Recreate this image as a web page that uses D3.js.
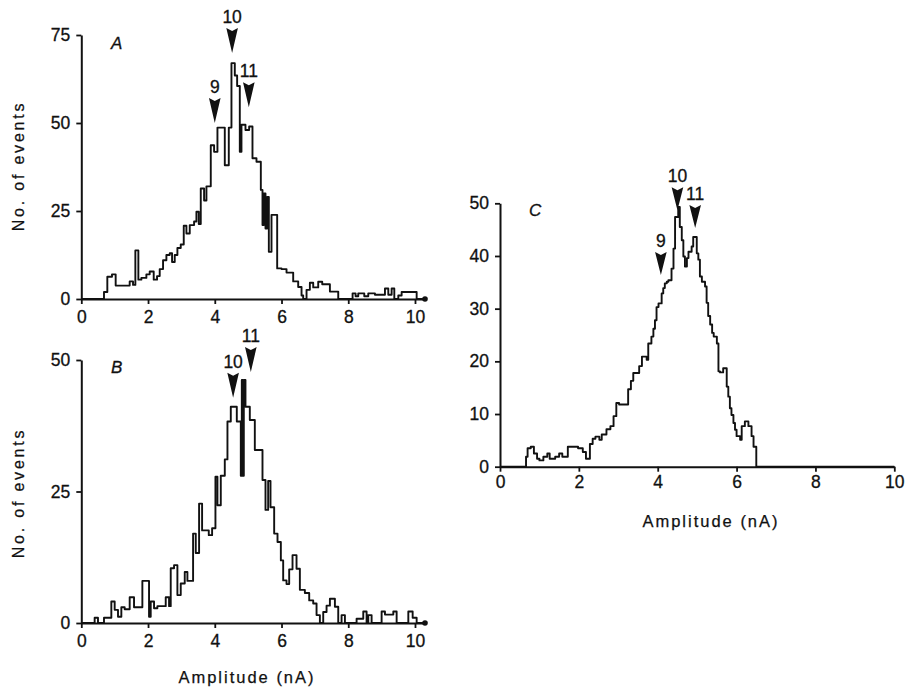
<!DOCTYPE html>
<html><head><meta charset="utf-8">
<script src="https://cdn.jsdelivr.net/npm/d3@7/dist/d3.min.js"></script>
<style>
html,body{margin:0;padding:0;background:#fff;}
svg text{font-family:"Liberation Sans",Arial,Helvetica,sans-serif;fill:#111;}
</style></head>
<body><svg id="chart" width="911" height="689"></svg>
<script>
// ---------- DATA ----------
// Panel A: step histogram (amplitude step start in nA, number of events)
const aAmp   = [0,0.68,0.78,0.92,1.03,1.45,1.55,1.62,1.71,1.80,1.95,2.05,2.17,2.27,2.35,2.45,2.55,2.65,2.72,2.80,2.88,2.98,3.07,3.15,3.25,3.38,3.45,3.52,3.58,3.68,3.75,3.88,3.98,4.08,4.30,4.42,4.50,4.60,4.67,4.75,4.80,4.92,5.03,5.13,5.25,5.38,5.43,5.47,5.52,5.57,5.62,5.70,5.87,6.00,6.15,6.35,6.50,6.60,6.65,6.75,6.85,6.95,7.10,7.22,7.45,7.70,8.13,8.22,8.30,8.48,8.60,8.80,9.10,9.20,9.30,9.38,9.50,9.60,10.05,10.3];
const aCount = [0,2,6.3,7,3.8,5,4,13.8,5.5,6,7,7.8,5.5,6.5,8.5,11,12.5,13,10.5,12.5,14.5,15.5,20.8,18.6,21,22,24.8,21.3,31.4,28,32,43.7,41.8,48.7,38,48.7,67,63.5,60.5,41.8,49.5,48,49,40,39,31,21,30,20,29,13.4,23.9,8.7,8.5,7.5,5,3.4,1,0,2.6,4.6,3.3,4.9,4.2,2.1,0,1.6,0.8,1.6,0.8,1.6,1.2,3,1.2,3,0,1,2,0,0];

// Panel B
const bAmp   = [0,0.40,0.50,0.68,0.90,1.00,1.10,1.20,1.30,1.45,1.58,1.83,2.03,2.08,2.18,2.28,2.53,2.63,2.68,2.78,2.88,2.98,3.10,3.18,3.35,3.43,3.53,3.62,3.82,3.92,4.02,4.08,4.18,4.30,4.38,4.48,4.66,4.78,4.81,4.84,4.87,4.92,5.05,5.20,5.43,5.52,5.60,5.67,5.78,5.88,5.98,6.05,6.15,6.23,6.33,6.45,6.55,6.70,6.83,6.95,7.05,7.15,7.25,7.35,7.45,7.60,7.70,7.80,7.90,8.25,8.45,8.55,8.60,8.70,9.00,9.10,9.35,9.45,9.80,9.93,10.05,10.3];
const bCount = [0,1,0,1,4.1,2.5,1.2,3,2.6,4.9,3,8,1.2,4.1,2.8,3.2,4.9,3.2,10.4,11,5.3,7.5,9.7,8,17,13.3,22.7,17.6,16.7,18,27.8,22.4,28,31.1,38.3,41.1,38.3,28,46.2,28,46.2,41.1,38.6,32.9,27.2,21.5,27,22,17,15.4,11.9,8.1,7.4,10.2,12.9,10.3,6.3,5.7,4.3,3.7,1.5,0,2.1,3.3,4.6,3.1,0,1.5,0,0.8,2.2,0,1.5,0,2.2,1.6,2.2,0,2.2,1,0,0];

// Panel C
const cAmp   = [0,0.66,0.70,0.78,0.86,0.94,1.00,1.10,1.20,1.26,1.40,1.50,1.58,1.72,1.98,2.10,2.18,2.28,2.35,2.42,2.52,2.58,2.70,2.80,2.88,2.95,3.02,3.25,3.32,3.38,3.53,3.60,3.72,3.76,3.84,3.89,3.93,3.97,4.02,4.10,4.14,4.18,4.23,4.27,4.35,4.40,4.44,4.52,4.56,4.61,4.65,4.69,4.74,4.78,4.86,4.90,4.99,5.03,5.07,5.12,5.20,5.24,5.28,5.33,5.38,5.42,5.50,5.54,5.58,5.66,5.75,5.79,5.83,5.87,5.92,5.96,6.00,6.09,6.13,6.21,6.30,6.38,6.43,6.50,10];
const cCount = [0,1.9,3.5,3.8,2.5,1.5,1.2,1.9,2.5,1.5,1.9,2.5,1.9,3.8,3.5,2.8,1.5,4.3,5.3,5.7,5.1,6.1,7.1,7.7,9.6,12.1,11.8,14.7,16.3,17.8,19.1,20.9,20.3,23.4,24.7,26.2,27.8,30.3,31,32.9,33.9,34.8,35.1,35.4,37.6,41.4,47.4,49.3,45.5,43,39.9,38,39.6,40.8,41.8,43.6,40.5,39.3,36.1,35.1,34.2,31.1,28.6,27,25.4,24.7,23.4,18.1,17.9,18.7,15.2,13.3,11.1,9.8,8.3,7,5.8,5.1,7.7,8.6,7.7,5.8,3.8,0,0];

// Tick labels
const xTicksAB = [0,2,4,6,8,10];
const xTicksC  = [0,2,4,6,8,10];
const yTicksA  = [0,25,50,75];
const yTicksB  = [0,25,50];
const yTicksC  = [0,10,20,30,40,50];

// Peak markers (quantal number, amplitude nA, count at arrow tip)
const aMarkLabels = ["9","10","11"];  const aMarkAmp = [4.0,4.52,5.02];  const aMarkTip = [50,69.9,54.5];
const bMarkLabels = ["10","11"];      const bMarkAmp = [4.55,5.08];      const bMarkTip = [42.8,47.7];
const cMarkLabels = ["9","10","11"];  const cMarkAmp = [4.08,4.5,4.95];  const cMarkTip = [36.4,48.7,45.3];

// ---------- DRAW ----------
const svg = d3.select("#chart");
const INK = "#111";

function panel(o){
  const g = svg.append("g");
  const x = d3.scaleLinear().domain(o.xDomain).range(o.xRange);
  const y = d3.scaleLinear().domain(o.yDomain).range(o.yRange);

  const pts = o.amp.map((a,i)=>[a,o.count[i]]);
  g.append("path").datum(pts)
    .attr("fill","none").attr("stroke",INK).attr("stroke-width",1.9)
    .attr("stroke-linejoin","round")
    .attr("d", d3.line().x(d=>x(d[0])).y(d=>y(d[1])).curve(d3.curveStepAfter));

  const xa = g.append("g").attr("transform",`translate(0,${o.yRange[0]})`)
    .call(d3.axisBottom(x).tickValues(o.xTicks).tickSize(5).tickSizeOuter(0).tickPadding(o.xPad).tickFormat(d3.format("d")));
  const ya = g.append("g").attr("transform",`translate(${o.xRange[0]},0)`)
    .call(d3.axisLeft(y).tickValues(o.yTicks).tickSize(5).tickSizeOuter(0).tickPadding(6).tickFormat(d3.format("d")));
  [xa,ya].forEach(a=>{
    a.select(".domain").attr("stroke",INK).attr("stroke-width",2);
    a.selectAll(".tick line").attr("stroke",INK).attr("stroke-width",1.8);
    a.selectAll(".tick text").attr("font-size",17.5).attr("fill",INK)
      .attr("stroke",INK).attr("stroke-width",0.3)
      .style("font-family",'"Liberation Sans",Arial,sans-serif');
  });

  if(o.endDot){
    g.append("circle").attr("cx",x(o.xDomain[1])).attr("cy",y(0)).attr("r",2.8).attr("fill",INK);
  }

  g.append("text").attr("x",o.letterPos[0]).attr("y",o.letterPos[1])
    .attr("font-size",17).attr("font-style","italic").attr("stroke",INK).attr("stroke-width",0.3).text(o.letter);

  o.markLabels.forEach((lab,i)=>{
    const ax = x(o.markAmp[i]), tip = y(o.markTip[i]);
    const h = o.arrowH, w = 5.8, top = tip - h;
    g.append("path")
      .attr("d",`M${ax-w},${top} L${ax},${top+3} L${ax+w},${top} L${ax},${tip} Z`)
      .attr("fill",INK);
    g.append("text").attr("x",ax).attr("y",top-5)
      .attr("text-anchor","middle").attr("font-size",17.5)
      .attr("stroke",INK).attr("stroke-width",0.3).text(lab);
  });

  if(o.yTitle){
    g.append("text")
      .attr("transform",`translate(${o.yTitle[0]},${o.yTitle[1]}) rotate(-90)`)
      .attr("text-anchor","middle").attr("font-size",16)
      .style("letter-spacing","2.8px").attr("stroke",INK).attr("stroke-width",0.25)
      .text("No. of events");
  }
  if(o.xTitle){
    g.append("text").attr("x",o.xTitle[0]).attr("y",o.xTitle[1])
      .attr("text-anchor","middle").attr("font-size",16.5)
      .style("letter-spacing","2px").attr("stroke",INK).attr("stroke-width",0.25)
      .text("Amplitude (nA)");
  }
}

panel({amp:aAmp,count:aCount,xDomain:[0,10.3],xRange:[81.3,425],yDomain:[0,75],yRange:[299,35],
  xTicks:xTicksAB,yTicks:yTicksA,xPad:7,endDot:true,letter:"A",letterPos:[111,49],
  markLabels:aMarkLabels,markAmp:aMarkAmp,markTip:aMarkTip,arrowH:25,yTitle:[24,166]});
panel({amp:bAmp,count:bCount,xDomain:[0,10.3],xRange:[81.3,425],yDomain:[0,50],yRange:[623,360],
  xTicks:xTicksAB,yTicks:yTicksB,xPad:7,endDot:true,letter:"B",letterPos:[111,373],
  markLabels:bMarkLabels,markAmp:bMarkAmp,markTip:bMarkTip,arrowH:25,yTitle:[24,493],xTitle:[247,683]});
panel({amp:cAmp,count:cCount,xDomain:[0,10],xRange:[500,894.3],yDomain:[0,50],yRange:[466.7,203.3],
  xTicks:xTicksC,yTicks:yTicksC,xPad:4,endDot:false,letter:"C",letterPos:[529,216],
  markLabels:cMarkLabels,markAmp:cMarkAmp,markTip:cMarkTip,arrowH:23,xTitle:[711,527]});
</script>
</body></html>
